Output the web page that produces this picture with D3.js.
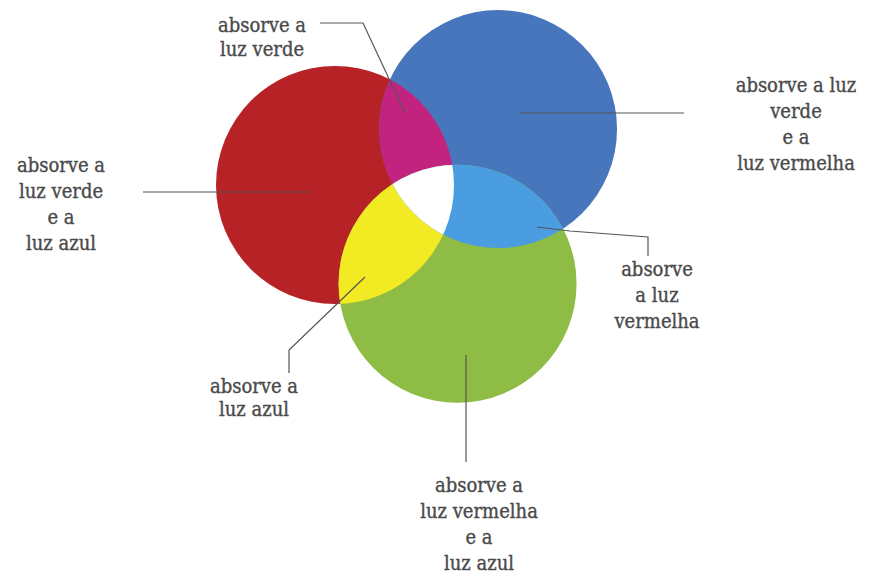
<!DOCTYPE html>
<html>
<head>
<meta charset="utf-8">
<script src="https://cdn.jsdelivr.net/npm/d3@7"></script>
<style>
  body { margin: 0; background: #fff; }
</style>
</head>
<body>
<div id="chart-holder"></div>
<script>
// sets (one circle each), centres in circle-radius units
var setNames = ['vermelho', 'azul', 'verde'];
var setColors = ['#b72226', '#4876bd', '#8fbc44'];
var setX = [0, 1.37, 1.03];
var setY = [0, -0.47, 0.83];

// overlap colours
var overlapNames = ['vermelho+azul', 'vermelho+verde', 'azul+verde', 'todos'];
var overlapColors = ['#c2237f', '#f2ea22', '#4a9de0', '#ffffff'];

// label texts
var labelTexts = [
    ['absorve a', 'luz verde'],
    ['absorve a', 'luz verde', 'e a', 'luz azul'],
    ['absorve a luz', 'verde', 'e a', 'luz vermelha'],
    ['absorve', 'a luz', 'vermelha'],
    ['absorve a', 'luz azul'],
    ['absorve a', 'luz vermelha', 'e a', 'luz azul']
];

function buildChart(containerId) {
    var width = 874;
    var height = 578;

    var svg = d3
        .select(containerId)
        .append('svg')
        .attr('width', width)
        .attr('height', height);

    // one unit = radius
    var radius = 119;
    var x = d3.scaleLinear().domain([0, 1]).range([335, 335 + radius]);
    var y = d3.scaleLinear().domain([0, 1]).range([185, 185 + radius]);

    var sets = setNames.map(function(n, i) {
        return { name: n, color: setColors[i], cx: x(setX[i]), cy: y(setY[i]) };
    });

    // clip paths for each circle
    var defs = svg.append('defs');
    sets.forEach(function(s, i) {
        defs.append('clipPath')
            .attr('id', 'clip-' + i)
            .append('circle')
            .attr('cx', s.cx)
            .attr('cy', s.cy)
            .attr('r', radius);
    });

    var g = svg.append('g');

    // base circles
    g.selectAll('.set')
        .data(sets)
        .enter()
        .append('circle')
        .attr('class', 'set')
        .attr('cx', function(d) { return d.cx; })
        .attr('cy', function(d) { return d.cy; })
        .attr('r', radius)
        .attr('fill', function(d) { return d.color; });

    // overlaps: [circle drawn, clipped by...]
    var overlapDefs = [[1, [0]], [2, [0]], [2, [1]], [2, [0, 1]]];
    overlapDefs.forEach(function(o, k) {
        var holder = g;
        o[1].forEach(function(c) {
            holder = holder.append('g').attr('clip-path', 'url(#clip-' + c + ')');
        });
        var s = sets[o[0]];
        holder.append('circle')
            .attr('class', 'overlap')
            .attr('cx', s.cx)
            .attr('cy', s.cy)
            .attr('r', radius)
            .attr('fill', overlapColors[k]);
    });

    // leader lines
    var leaders = [
        [[320, 23], [363, 23], [405, 113]],
        [[143, 192], [308, 192]],
        [[520, 113], [684, 113]],
        [[537, 227], [570, 231], [648, 237], [648, 256]],
        [[365, 277], [289, 350], [289, 373]],
        [[466, 355], [466, 462]]
    ];
    var line = d3.line();
    g.selectAll('.leader')
        .data(leaders)
        .enter()
        .append('path')
        .attr('class', 'leader')
        .attr('d', line)
        .attr('fill', 'none')
        .attr('stroke', '#555')
        .attr('stroke-width', 1.2);

    // label blocks: centre x, first baseline, line step
    var labelPos = [[262, 32, 24], [61, 172, 26], [796, 92, 26], [657, 276, 26], [254, 393, 23], [479, 492, 26]];
    labelTexts.forEach(function(lines, i) {
        var t = g.append('text')
            .attr('class', 'label')
            .attr('text-anchor', 'middle')
            .attr('font-family', '"DejaVu Serif Condensed", "DejaVu Serif", serif')
            .attr('font-stretch', 'condensed')
            .attr('fill', '#4a4a4a')
            .attr('stroke', '#4a4a4a')
            .attr('stroke-width', 0.35)
            .style('font-size', '20px');
        lines.forEach(function(l, j) {
            t.append('tspan')
                .attr('x', labelPos[i][0])
                .attr('y', labelPos[i][1] + j * labelPos[i][2])
                .text(l);
        });
    });
}

buildChart('#chart-holder');
</script>
</body>
</html>
